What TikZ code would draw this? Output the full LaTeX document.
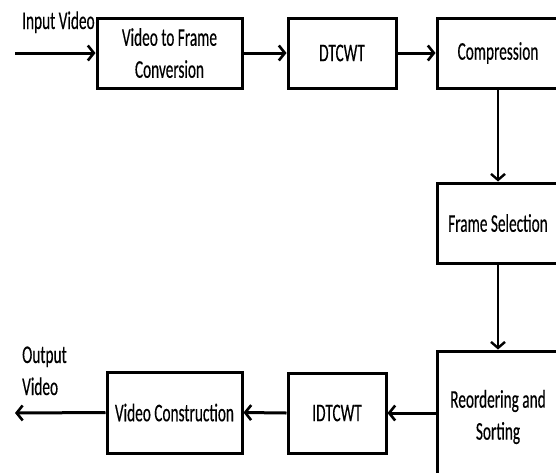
\documentclass[tikz,border=0pt]{standalone}
\usepackage{fontspec}
\setmainfont{Carlito}[FakeStretch=0.6,FakeBold=0.3]
\usetikzlibrary{arrows.meta}

\begin{document}
\begin{tikzpicture}[x=1pt,y=-1pt,
    blk/.style={draw,line width=3pt,inner sep=0pt,align=center,
        font=\fontsize{25.5}{32}\selectfont},
    lbl/.style={inner sep=0pt,align=left,font=\fontsize{25.5}{32}\selectfont},
    flow/.style={line width=3pt,-{Straight Barb[length=6pt,width=15pt,line width=2.6pt]}},
    down/.style={line width=2.4pt,-{Straight Barb[length=6pt,width=14pt,line width=2.4pt]}}]
    \useasboundingbox (0,0) rectangle (556,472);
    \clip (0,0) rectangle (556,472);

    \node[blk,minimum width=145pt,minimum height=70pt] (conv) at (169.5,53) {Video to Frame\\Conversion};
    \node[blk,minimum width=108pt,minimum height=70pt] (dtcwt) at (342,53) {DTCWT};
    \node[blk,minimum width=122pt,minimum height=70pt] (comp) at (498,53) {Compression};
    \node[blk,minimum width=122pt,minimum height=80pt] (fsel) at (498,223) {Frame Selection};
    \node[blk,minimum width=122pt,minimum height=132pt] (reord) at (498,417) {Reordering and\\Sorting};
    \node[blk,minimum width=98pt,minimum height=80pt] (idtcwt) at (337,413) {IDTCWT};
    \node[blk,minimum width=135pt,minimum height=81pt] (vcons) at (174.5,412.5) {Video Construction};

    \coordinate (vin) at (15,53);
    \coordinate (vout) at (15,413);
    \node[lbl,anchor=base west] (inlbl) at (22,29) {Input Video};
    \node[lbl,anchor=base west] (outlbl) at (22,395) {Output\\Video};

    \draw[flow] (vin) -- (conv.west);
    \draw[flow] (conv.east) -- (dtcwt.west);
    \draw[flow] (dtcwt.east) -- (comp.west);
    \draw[down] (comp.south) -- (fsel.north);
    \draw[down] (fsel.south) -- (reord.north);
    \draw[flow] (reord.west |- idtcwt.east) -- (idtcwt.east);
    \draw[flow] (idtcwt.west) -- (vcons.east);
    \draw[flow] (vcons.west) -- (vout);
\end{tikzpicture}
\end{document}
